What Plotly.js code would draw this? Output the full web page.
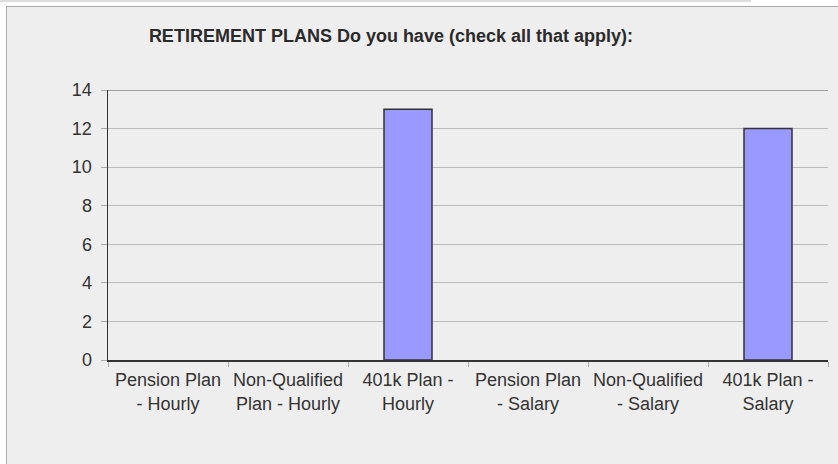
<!DOCTYPE html>
<html>
<head>
<meta charset="utf-8">
<script src="https://cdn.plot.ly/plotly-3.0.1.min.js"></script>
<style>
  html, body { margin: 0; padding: 0; background: #ffffff; width: 838px; height: 464px; overflow: hidden; }
  #strip { position: absolute; left: 0; top: 0; width: 751px; height: 2px; background: #dddddd; }
  #frame { position: absolute; left: 6px; top: 6px; width: 832px; height: 458px; border-left: 1px solid #aaaaaa; border-top: 1px solid #aaaaaa; background: #eeeeee; }
  #chart { width: 831px; height: 457px; }
</style>
</head>
<body>
<div id="strip"></div>
<div id="frame"><div id="chart"></div></div>
<script>
const categories = [
  "Pension Plan<br>- Hourly",
  "Non-Qualified<br>Plan - Hourly",
  "401k Plan -<br>Hourly",
  "Pension Plan<br>- Salary",
  "Non-Qualified<br>- Salary",
  "401k Plan -<br>Salary"
];
const counts = [0, 0, 13, 0, 0, 12];
const yTicks = [0, 2, 4, 6, 8, 10, 12, 14];
const chartTitle = "RETIREMENT PLANS Do you have (check all that apply):";

const trace = {
  type: "bar",
  x: categories,
  y: counts,
  width: 0.4,
  marker: {
    color: "#9999ff",
    line: { color: "#333333", width: counts.map(v => (v > 0 ? 1.5 : 0)) }
  },
  hoverinfo: "none"
};

const layout = {
  width: 831,
  height: 457,
  margin: { l: 101, r: 10, t: 83, b: 104 },
  paper_bgcolor: "#eeeeee",
  plot_bgcolor: "#eeeeee",
  showlegend: false,
  font: { family: "Liberation Sans, Arial, sans-serif", color: "#333333" },
  title: {
    text: "<b>" + chartTitle + "</b>",
    font: { family: "Liberation Sans, Arial, sans-serif", size: 18, color: "#2a2a2a" },
    xref: "container", x: 0.462, xanchor: "center",
    yref: "container", y: 1 - 29 / 457, yanchor: "middle"
  },
  xaxis: {
    type: "category",
    tickson: "boundaries",
    ticks: "outside",
    ticklen: 5,
    tickcolor: "#aaaaaa",
    tickwidth: 1,
    showline: true,
    linecolor: "#333333",
    linewidth: 1.5,
    showgrid: false,
    tickfont: { size: 18, color: "#333333" },
    tickangle: 0,
    ticklabelstandoff: 3,
    fixedrange: true
  },
  yaxis: {
    range: [0, 14],
    tickvals: yTicks,
    ticktext: yTicks.map(String),
    ticks: "outside",
    ticklen: 6,
    tickcolor: "#aaaaaa",
    showline: true,
    linecolor: "#333333",
    linewidth: 1.5,
    showgrid: true,
    gridcolor: "#bbbbbb",
    gridwidth: 1,
    zeroline: false,
    tickfont: { size: 18, color: "#333333" },
    ticklabelstandoff: 5,
    fixedrange: true
  },
  shapes: [
    { type: "line", xref: "paper", yref: "y", x0: 0, x1: 1, y0: 14, y1: 14, line: { color: "#808080", width: 1.5 } }
  ]
};

Plotly.newPlot("chart", [trace], layout, { displayModeBar: false, staticPlot: true });
</script>
</body>
</html>
